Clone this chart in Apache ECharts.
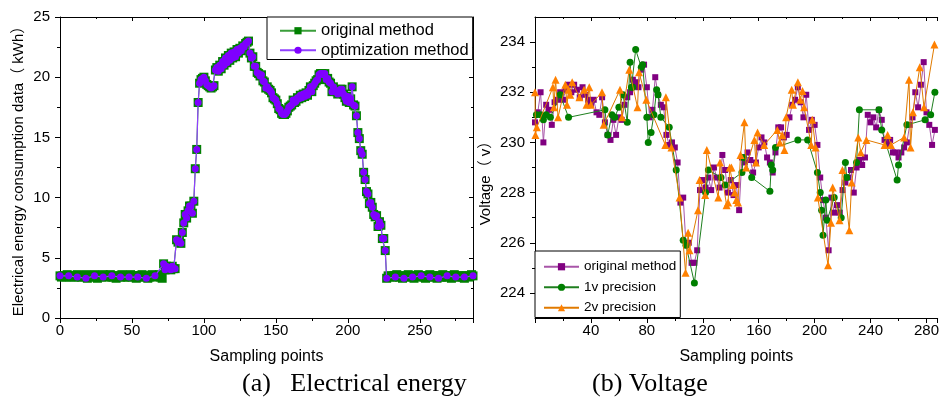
<!DOCTYPE html>
<html><head><meta charset="utf-8">
<script src="https://cdn.jsdelivr.net/npm/echarts@6/dist/echarts.min.js"></script>
<style>html,body{margin:0;padding:0;background:#fff}#c{width:942px;height:398px}</style>
</head><body><div id="c"></div>
<script>
// ---------- Panel (a): electrical energy, one value per sampling point 0..287 ----------
const energyOrig = [
3.5,3.4,3.5,3.5,3.4,3.6,3.5,3.4,3.5,3.5,
3.4,3.5,3.6,3.4,3.5,3.4,3.5,3.5,3.6,3.3,
3.5,3.4,3.5,3.5,3.6,3.4,3.3,3.5,3.5,3.4,
3.6,3.5,3.4,3.5,3.5,3.6,3.4,3.4,3.5,3.3,
3.5,3.5,3.4,3.6,3.5,3.4,3.5,3.4,3.5,3.6,
3.4,3.5,3.5,3.3,3.5,3.4,3.5,3.6,3.4,3.5,
3.5,3.3,3.4,3.5,3.6,3.5,3.4,3.5,3.5,3.6,
3.4,3.3,
4.5,4.0,4.3,4.1,4.2,4.0,4.3,4.1,4.1,6.5,
6.3,6.4,6.2,7.1,7.9,8.6,8.3,8.9,9.3,9.3,
8.7,9.7,12.4,14.0,17.9,19.5,19.8,19.9,20.0,19.7,
19.4,19.3,19.2,19.1,19.2,19.3,20.6,20.8,20.5,21.0,
20.7,21.3,21.0,21.6,21.2,21.8,21.4,22.0,21.6,22.1,
21.7,22.3,22.0,22.4,22.2,22.6,22.5,22.8,22.9,23.0,
22.0,21.6,21.7,20.9,20.9,20.4,20.3,20.1,20.2,19.7,
19.6,19.1,19.2,19.0,18.9,18.7,18.3,18.2,18.1,17.8,
17.4,17.3,17.0,16.9,16.9,17.0,17.2,17.5,17.6,17.7,
18.1,17.9,18.0,18.3,18.2,18.5,18.3,18.6,18.4,18.7,
18.5,18.9,19.2,18.8,19.3,19.5,19.7,19.8,20.2,20.3,
20.3,20.2,20.3,19.8,19.9,19.6,19.5,18.8,19.2,18.9,
18.8,18.6,18.9,19.0,19.0,18.6,18.3,18.0,18.4,17.9,
18.2,19.2,17.7,17.6,16.8,15.4,14.9,13.9,13.6,12.1,
11.5,10.5,10.3,9.5,9.6,9.2,8.6,8.4,8.5,7.6,
8.0,7.7,6.6,6.6,5.6,3.3,
3.5,3.4,3.5,3.4,3.5,3.5,3.6,3.4,3.4,3.5,
3.3,3.5,3.5,3.4,3.6,3.5,3.4,3.5,3.3,3.5,
3.5,3.6,3.4,3.5,3.5,3.4,3.3,3.5,3.4,3.6,
3.5,3.5,3.4,3.5,3.3,3.5,3.5,3.4,3.6,3.5,
3.4,3.4,3.5,3.5,3.3,3.5,3.6,3.4,3.5,3.5,
3.4,3.5,3.4,3.3,3.5,3.5,3.4,3.5,3.6,3.5
];
// optimization method: sparse in the flat parts, every point in the active part (72..227)
const energyOptStartX = [0,6,12,18,24,30,36,42,48,54,60,66];
const energyOptStartY = [3.5,3.5,3.4,3.3,3.5,3.4,3.5,3.4,3.4,3.4,3.3,3.5];
const energyOptActiveFrom = 72, energyOptActiveTo = 227;
const energyOptEndX = [233,239,245,251,257,263,269,275,281,287];
const energyOptEndY = [3.4,3.3,3.4,3.5,3.4,3.3,3.5,3.4,3.4,3.5];

// ---------- Panel (b): voltage ----------
// original method, values at sampling points 0,2,4,...,286
const voltOrig = [
230.8,231.2,232.0,230.0,231.5,231.3,230.7,231.6,231.7,232.0,
231.7,232.1,232.3,232.0,232.3,232.1,231.8,232.2,231.9,231.7,
231.5,231.7,231.2,231.1,231.8,230.8,230.3,230.1,230.9,230.3,
231.0,230.9,231.5,231.8,232.0,232.5,232.4,232.2,232.9,233.1,
232.2,231.0,231.3,232.6,231.9,231.5,231.4,230.3,229.9,230.0,
229.8,229.2,227.6,227.8,225.9,226.0,225.2,225.2,225.7,228.1,
228.5,228.2,228.6,228.1,229.0,228.6,228.2,229.5,228.9,228.0,
228.5,227.9,228.3,227.3,229.4,229.2,229.6,229.3,228.8,229.2,
229.8,230.2,230.0,229.4,229.2,228.8,229.6,230.6,230.6,230.2,
230.3,231.0,231.5,231.7,232.2,231.6,231.0,231.9,230.5,230.9,
230.7,229.9,228.6,227.7,227.0,225.7,227.8,227.2,227.5,227.2,
228.1,228.4,228.6,228.9,228.0,229.0,229.3,229.1,229.4,231.1,
230.8,231.0,230.6,231.3,230.9,230.1,229.9,230.1,229.6,229.6,
229.4,229.6,229.8,230.0,230.7,231.0,232.0,231.4,232.3,233.2,
231.2,230.7,229.9,230.5
];
const voltOrigStep = 2;
// 1v precision [sampling point, voltage]
const volt1v = [
[1,231.1],[4,231.1],[6,230.9],[8,231.1],[11,231.0],[18,231.9],[24,231.0],[50,231.3],[52,230.3],[55,231.1],
[57,231.0],[60,231.4],[63,231.9],[66,230.8],[68,233.2],[69,232.2],[70,232.2],[72,233.7],[76,233.0],[77,233.1],
[80,231.0],[81,230.0],[83,230.4],[85,231.1],[87,232.1],[88,231.9],[90,231.0],[96,230.6],[101,228.9],[106,226.1],
[108,225.9],[114,224.4],[122,228.0],[124,228.9],[133,228.6],[136,228.3],[148,228.8],[149,229.4],[155,228.6],[168,228.05],
[169,229.1],[170,228.9],[172,229.8],[188,230.1],[195,230.1],[202,228.8],[204,228.0],[205,227.3],[206,226.3],[208,227.7],
[209,226.9],[214,227.8],[219,227.0],[222,229.2],[223,228.6],[230,229.2],[232,231.3],[246,231.3],[248,230.5],[259,228.5],
[260,229.1],[266,230.7],[279,230.9],[283,231.1],[286,232.0]
];
// 2v precision [sampling point, voltage]
const volt2v = [
[0,232.0],[0.3,230.3],[1.3,230.6],[12.8,232.2],[13.5,231.4],[14.7,232.5],[16.5,231.0],[21.7,232.3],[22.9,231.5],[24.0,232.1],
[25.2,231.9],[26.6,232.4],[31.8,231.8],[35.1,232.1],[36.9,231.5],[38.8,232.2],[40,231.5],[47.9,232.0],[49.1,230.7],[60.8,232.1],
[62.2,231.0],[67.4,232.9],[73.3,231.4],[74.4,232.8],[79.6,231.7],[93.2,229.9],[93.6,231.8],[97.6,229.8],[103.4,227.8],[107.7,224.8],
[109.5,226.4],[110.5,225.7],[116.6,227.3],[117.7,228.5],[121.7,227.9],[122.9,229.7],[131.1,227.8],[132.3,229.2],[137,227.5],[138.1,227.6],
[139.3,229.0],[140.5,229.0],[141.6,228.3],[142.8,228.0],[144,227.7],[145.2,227.6],[147,229.5],[149.8,230.8],[151,229.0],[156.9,230.1],
[158,229.2],[159.2,230.4],[163.9,229.9],[173.3,230.5],[175.1,230.0],[176.8,230.3],[178.4,229.7],[179.6,231.0],[183.6,232.1],[184.5,231.5],
[188,232.4],[189.7,231.7],[191.3,232.05],[192.5,231.4],[197.6,229.9],[198.3,230.9],[200.7,229.8],[202.3,227.8],[209.6,225.1],[211.7,226.8],
[212.9,228.2],[217.8,226.9],[219.9,228.9],[224.8,226.5],[226.5,228.4],[231.2,230.2],[233,229.6],[237,230.1],[250,229.9],[252.2,230.3],
[254.6,229.9],[264,230.2],[267.5,232.5],[268.6,229.8],[270.3,231.2],[275.2,233.0],[278.2,231.4],[285.7,233.9]
];

// ticks / labels
const voltMajorTicks = [224,226,228,230,232,234];
const voltMinorTicks = [225,227,229,231,233];
const captionA = '(a)   Electrical energy';
const captionB = '(b) Voltage';

// ---------- build ----------
const FONT = "'Liberation Sans', Arial, 'Noto Sans CJK SC', sans-serif";
const energyOrigData = energyOrig.map((v, i) => [i, v]);
const energyOptData = [];
energyOptStartX.forEach((x, i) => energyOptData.push([x, energyOptStartY[i]]));
for (let x = energyOptActiveFrom; x <= energyOptActiveTo; x++) energyOptData.push([x, energyOrig[x]]);
energyOptEndX.forEach((x, i) => energyOptData.push([x, energyOptEndY[i]]));
const voltOrigData = voltOrig.map((v, i) => [i * voltOrigStep, v]);

const black = {color: '#000', width: 1};
function mainX(grid, max, interval, hideMin) {
  return {gridIndex: grid, type: 'value', min: 0, max: max, interval: interval, position: 'bottom',
    axisLine: {show: true, onZero: false, lineStyle: black},
    axisTick: {show: true, inside: false, length: 5, lineStyle: black},
    minorTick: {show: true, splitNumber: 2, length: 3, lineStyle: black},
    axisLabel: {fontSize: 15, color: '#000', margin: 5, fontFamily: FONT, showMaxLabel: false, showMinLabel: !hideMin},
    splitLine: {show: false},
    name: 'Sampling points', nameLocation: 'middle', nameGap: 31,
    nameTextStyle: {fontSize: 16, color: '#000', fontFamily: FONT}};
}
function mirrorX(grid, max, interval) {
  return {gridIndex: grid, type: 'value', min: 0, max: max, interval: interval, position: 'top',
    axisLine: {show: true, onZero: false, lineStyle: black},
    axisTick: {show: true, inside: true, length: 4, lineStyle: black},
    minorTick: {show: true, splitNumber: 2, length: 2, lineStyle: black},
    axisLabel: {show: false}, splitLine: {show: false}};
}

const option = {
  animation: false,
  backgroundColor: '#fff',
  textStyle: {fontFamily: FONT, color: '#000'},
  grid: [
    {left: 60, top: 17, right: 469, bottom: 80},
    {left: 535, top: 17, right: -3, bottom: 80}
  ],
  xAxis: [mainX(0, 287, 50, false), mirrorX(0, 287, 50), mainX(1, 288, 40, true), mirrorX(1, 288, 40)],
  yAxis: [
    {gridIndex: 0, type: 'value', min: 0, max: 25, interval: 5, position: 'left',
      axisLine: {show: true, onZero: false, lineStyle: black},
      axisTick: {show: true, inside: false, length: 5, lineStyle: black},
      minorTick: {show: true, splitNumber: 2, length: 3, lineStyle: black},
      axisLabel: {fontSize: 15, color: '#000', margin: 10, fontFamily: FONT},
      splitLine: {show: false},
      name: 'Electrical energy consumption data（ kWh）', nameLocation: 'middle', nameGap: 34,
      nameTextStyle: {fontSize: 15, color: '#000', fontFamily: FONT}},
    {gridIndex: 0, type: 'value', min: 0, max: 25, interval: 5, position: 'right',
      axisLine: {show: true, onZero: false, lineStyle: black},
      axisTick: {show: true, inside: true, length: 4, lineStyle: black},
      minorTick: {show: true, splitNumber: 2, length: 2, lineStyle: black},
      axisLabel: {show: false}, splitLine: {show: false}},
    {gridIndex: 1, type: 'value', min: 223, max: 235, position: 'left',
      axisLine: {show: true, onZero: false, lineStyle: black},
      axisTick: {show: true, inside: false, length: 5, lineStyle: black, customValues: voltMajorTicks},
      axisLabel: {fontSize: 15, color: '#000', margin: 10, fontFamily: FONT, customValues: voltMajorTicks},
      splitLine: {show: false},
      name: 'Voltage（ v）', nameLocation: 'middle', nameGap: 42,
      nameTextStyle: {fontSize: 15, color: '#000', fontFamily: FONT, padding: [0, 24, 0, 0]}},
    {gridIndex: 1, type: 'value', min: 223, max: 235, position: 'left',
      axisLine: {show: false},
      axisTick: {show: true, inside: false, length: 3, lineStyle: black, customValues: voltMinorTicks},
      axisLabel: {show: false}, splitLine: {show: false}}
  ],
  legend: [
    {data: ['original method', 'optimization method'], left: 267, top: 17, orient: 'vertical',
      itemWidth: 36, itemHeight: 9, itemGap: 3, padding: [5.5, 4, 1, 12],
      borderColor: '#000', borderWidth: 1, backgroundColor: '#fff', selectedMode: false,
      textStyle: {fontSize: 16.5, color: '#000', fontFamily: FONT}},
    {data: ['original method (b)', '1v precision', '2v precision'], left: 535, top: 251, orient: 'vertical',
      itemWidth: 35, itemHeight: 9, itemGap: 7, padding: [9, 4, 3, 8],
      borderColor: '#000', borderWidth: 1, backgroundColor: '#fff', selectedMode: false,
      formatter: n => n === 'original method (b)' ? 'original method' : n,
      textStyle: {fontSize: 13.5, color: '#000', fontFamily: FONT}}
  ],
  series: [
    {name: 'original method', type: 'line', xAxisIndex: 0, yAxisIndex: 0, data: energyOrigData,
      symbol: 'rect', symbolSize: 9, itemStyle: {color: '#008000'},
      lineStyle: {color: '#3a9e3a', width: 1.2}, z: 2},
    {name: 'optimization method', type: 'line', xAxisIndex: 0, yAxisIndex: 0, data: energyOptData,
      symbol: 'circle', symbolSize: 7, itemStyle: {color: '#7f00ff'},
      lineStyle: {color: '#9040ff', width: 1.2}, z: 3},
    {name: 'original method (b)', type: 'line', xAxisIndex: 2, yAxisIndex: 2, data: voltOrigData,
      symbol: 'rect', symbolSize: 6, itemStyle: {color: '#800080'},
      lineStyle: {color: '#a855a8', width: 1}, z: 2},
    {name: '1v precision', type: 'line', xAxisIndex: 2, yAxisIndex: 2, data: volt1v,
      symbol: 'circle', symbolSize: 7, itemStyle: {color: '#007f00'},
      lineStyle: {color: '#1f7f1f', width: 1}, z: 3},
    {name: '2v precision', type: 'line', xAxisIndex: 2, yAxisIndex: 2, data: volt2v,
      symbol: 'triangle', symbolSize: 8, itemStyle: {color: '#ff8000'},
      lineStyle: {color: '#e07a00', width: 1}, z: 4}
  ],
  graphic: [
    {type: 'text', left: 242, top: 371, z: 10,
      style: {text: captionA, font: '26px "Liberation Serif", "Times New Roman", serif', fill: '#000'}},
    {type: 'text', left: 592, top: 371, z: 10,
      style: {text: captionB, font: '26px "Liberation Serif", "Times New Roman", serif', fill: '#000'}}
  ]
};
const chart = echarts.init(document.getElementById('c'), null, {renderer: 'canvas'});
chart.setOption(option);
</script></body></html>
